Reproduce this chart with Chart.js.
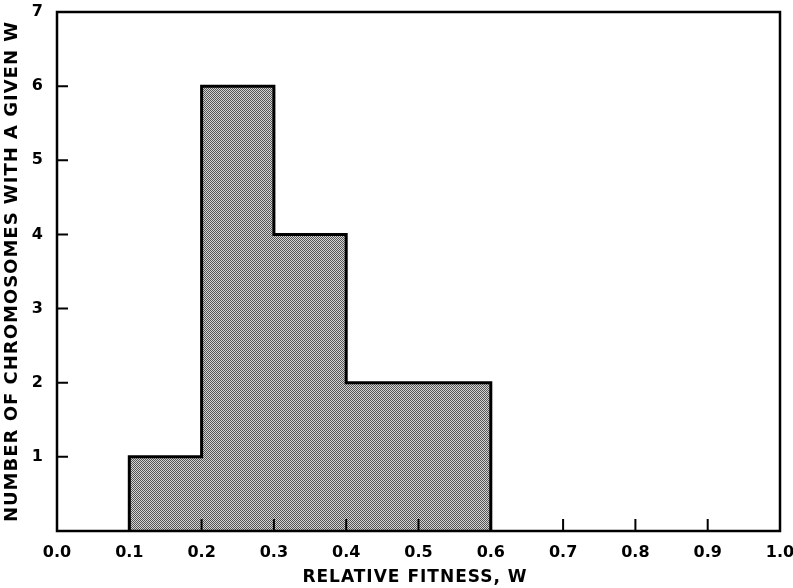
<!DOCTYPE html>
<html>
<head>
<meta charset="utf-8">
<script src="https://cdn.jsdelivr.net/npm/chart.js@4.4.1/dist/chart.umd.min.js"></script>
<style>
  html, body { margin: 0; padding: 0; background: #fff; }
  #wrap { width: 793px; height: 588px; }
</style>
</head>
<body>
<div id="wrap"><canvas id="fitnessChart" width="793" height="588"></canvas></div>
<script>
// histogram bins (lower edge, upper edge) and counts
const binStarts = [0.1, 0.2, 0.3, 0.4, 0.5];
const binEnds = [0.2, 0.3, 0.4, 0.5, 0.6];
const counts = [1, 6, 4, 2, 2];
const xTicks = [0.0, 0.1, 0.2, 0.3, 0.4, 0.5, 0.6, 0.7, 0.8, 0.9, 1.0];
const yTicks = [1, 2, 3, 4, 5, 6, 7];
const xTitle = 'RELATIVE FITNESS, W';
const yTitle = 'NUMBER OF CHROMOSOMES WITH A GIVEN W';

document.addEventListener("DOMContentLoaded", function () {
    const ctx = document.getElementById('fitnessChart').getContext('2d');

    // stippled halftone fill
    const pc = document.createElement('canvas');
    pc.width = 2; pc.height = 2;
    const p = pc.getContext('2d');
    p.fillStyle = '#d4d4d4'; p.fillRect(0, 0, 2, 2);
    p.fillStyle = '#555'; p.fillRect(0, 0, 1, 1); p.fillRect(1, 1, 1, 1);
    const stipple = ctx.createPattern(pc, 'repeat');

    // outline of the histogram as a stepped line
    const pts = [{ x: binStarts[0], y: 0 }];
    binStarts.forEach((b, i) => pts.push({ x: b, y: counts[i] }));
    const last = binEnds[binEnds.length - 1];
    pts.push({ x: last, y: counts[counts.length - 1] });
    pts.push({ x: last, y: 0 });

    const font = { family: 'DejaVu Sans', weight: 'bold', size: 16 };

    const frame = {
        id: 'frame',
        afterDatasetsDraw(chart) {
            const c = chart.ctx, a = chart.chartArea;
            const xs = chart.scales.x, ys = chart.scales.y;
            c.save();
            c.strokeStyle = '#000';
            c.lineWidth = 2.5;
            c.strokeRect(a.left, a.top, a.right - a.left, a.bottom - a.top);
            c.lineWidth = 2;
            c.beginPath();
            yTicks.slice(0, -1).forEach(v => {
                const y = ys.getPixelForValue(v);
                c.moveTo(a.left, y); c.lineTo(a.left + 11, y);
            });
            xTicks.slice(1, -1).forEach(v => {
                const x = xs.getPixelForValue(v);
                c.moveTo(x, a.bottom); c.lineTo(x, a.bottom - 12);
            });
            c.stroke();
            c.restore();
        },
        afterDraw(chart) {
            const c = chart.ctx, a = chart.chartArea;
            c.save();
            c.fillStyle = '#000';
            c.textAlign = 'center';
            c.textBaseline = 'middle';
            c.font = 'bold 17px "DejaVu Sans"';
            c.letterSpacing = '1px';
            c.fillText(xTitle, 415, 578);
            c.translate(12, (a.top + a.bottom) / 2);
            c.rotate(-Math.PI / 2);
            c.font = 'bold 18px "DejaVu Sans"';
            c.letterSpacing = '1px';
            c.fillText(yTitle, 0, 0);
            c.restore();
        }
    };

    new Chart(ctx, {
        type: 'line',
        data: {
            datasets: [{
                data: pts,
                stepped: 'before',
                borderColor: '#000',
                borderWidth: 3,
                backgroundColor: stipple,
                fill: 'origin',
                pointRadius: 0
            }]
        },
        options: {
            responsive: false,
            animation: false,
            layout: { padding: { top: 12, right: 13, left: 0, bottom: 0 } },
            scales: {
                x: {
                    type: 'linear',
                    min: 0, max: 1,
                    afterFit: s => { s.height = 57; s.paddingLeft = 0; s.paddingRight = 0; },
                    afterBuildTicks: s => { s.ticks = xTicks.map(v => ({ value: v })); },
                    grid: { display: false, drawTicks: false },
                    border: { display: false },
                    ticks: {
                        color: '#000', font: font, padding: 12, maxRotation: 0,
                        callback: v => v.toFixed(1)
                    }
                },
                y: {
                    min: 0, max: 7,
                    afterFit: s => { s.width = 57; s.paddingTop = 0; s.paddingBottom = 0; },
                    afterBuildTicks: s => { s.ticks = yTicks.map(v => ({ value: v })); },
                    grid: { display: false, drawTicks: false },
                    border: { display: false },
                    ticks: { color: '#000', font: font, padding: 14 }
                }
            },
            plugins: {
                legend: { display: false },
                tooltip: { enabled: false }
            }
        },
        plugins: [frame]
    });
});
</script>
</body>
</html>
